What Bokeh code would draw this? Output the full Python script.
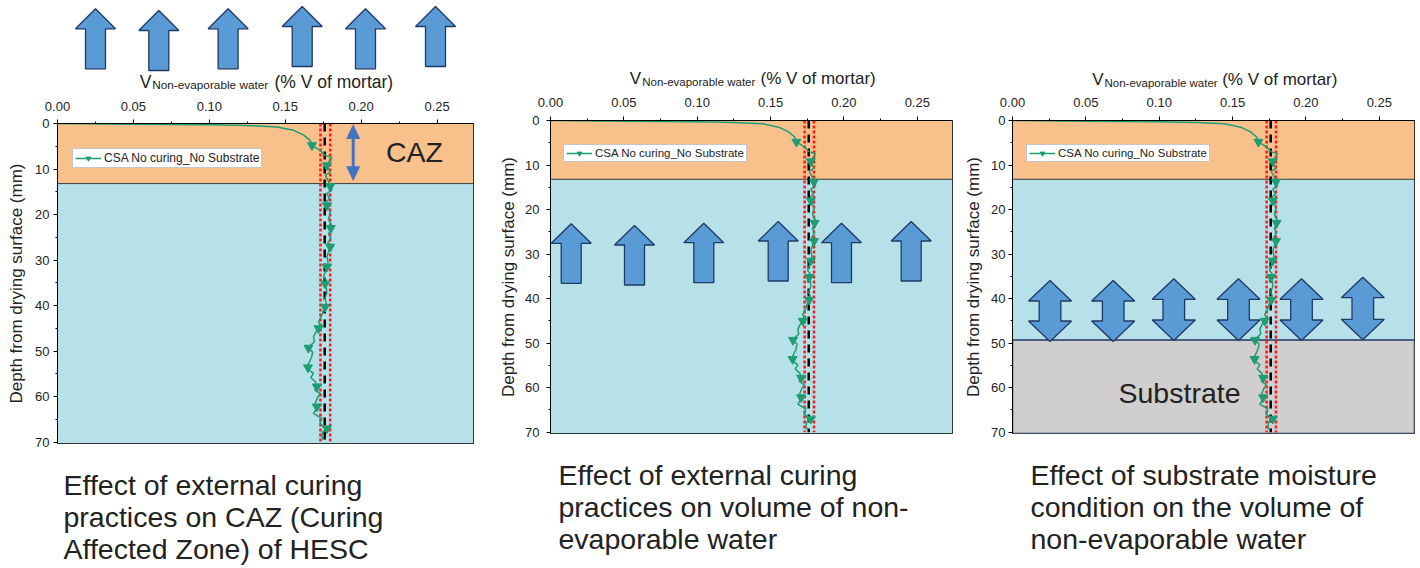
from bokeh.plotting import figure
from bokeh.layouts import row, column
from bokeh.models import Range1d, FixedTicker, NumeralTickFormatter, Legend, LegendItem
from bokeh.core.properties import value
from bokeh.embed import file_html
from bokeh.resources import INLINE

# ---------------- data ----------------
depth_mm = [0.0, 0.15, 0.3, 0.45, 0.75, 1.5, 2.5, 3.7, 4.8, 5.9, 7.0, 7.5, 8.3, 9.2, 10.0, 10.7,
            11.4, 12.3, 13.0, 13.8, 14.6, 15.4, 16.5, 17.2, 18.0, 19.0, 19.8, 21.0, 22.0, 23.1,
            24.2, 25.3, 26.2, 27.1, 28.2, 29.3, 30.4, 31.5, 32.6, 33.7, 34.4, 35.2, 36.3, 37.3,
            38.5, 39.4, 40.3, 41.2, 42.1, 43.6, 44.3, 45.0, 45.9, 46.9, 48.0, 48.6, 49.3, 50.2,
            51.2, 52.3, 53.4, 54.1, 54.9, 55.8, 56.8, 57.8, 58.6, 59.3, 60.3, 61.5, 62.2, 63.0,
            63.7, 64.8, 65.9, 66.5, 67.0, 67.8, 68.8, 69.5]
nev_water = [0.000, 0.050, 0.100, 0.125, 0.1445, 0.1555, 0.1620, 0.1664, 0.1676, 0.1730, 0.1763,
             0.1807, 0.1790, 0.1774, 0.1785, 0.1796, 0.1763, 0.1778, 0.1790, 0.1796, 0.1808,
             0.1774, 0.1792, 0.1770, 0.1774, 0.1790, 0.1796, 0.1785, 0.1800, 0.1812, 0.1785,
             0.1800, 0.1780, 0.1796, 0.1785, 0.1774, 0.1782, 0.1774, 0.1765, 0.1752, 0.1770,
             0.1763, 0.1772, 0.1774, 0.1760, 0.1770, 0.1763, 0.1750, 0.1741, 0.1719, 0.1732,
             0.1719, 0.1700, 0.1686, 0.1692, 0.1670, 0.1653, 0.1680, 0.1675, 0.1660, 0.1643,
             0.1655, 0.1686, 0.1668, 0.1700, 0.1708, 0.1695, 0.1730, 0.1712, 0.1697, 0.1708,
             0.1700, 0.1686, 0.1741, 0.1728, 0.1748, 0.1774, 0.1745, 0.1741, 0.1752]
marker_depth = [4.8, 9.2, 13.8, 18.0, 23.0, 27.1, 31.5, 35.2, 40.3, 45.0, 49.3, 53.6, 57.8, 62.2, 67.0]
marker_water = [0.1676, 0.1774, 0.1796, 0.1774, 0.1800, 0.1796, 0.1774, 0.1763, 0.1763, 0.1719,
                0.1653, 0.1650, 0.1708, 0.1708, 0.1774]
mean_water = 0.176
band_low = 0.1732
band_high = 0.1796
caz_depth = 13.2
substrate_depth = 49.3
x_ticks = [0.0, 0.05, 0.10, 0.15, 0.20, 0.25]
x_minor = [0.025, 0.075, 0.125, 0.175, 0.225]
y_ticks = [0, 10, 20, 30, 40, 50, 60, 70]
y_minor = [5, 15, 25, 35, 45, 55, 65]
series_label = "CSA No curing_No Substrate"
x_title = ["V", "Non-evaporable water", "(% V of mortar)"]
y_title = "Depth from drying surface (mm)"
captions = [
    ["Effect of external curing", "practices on CAZ (Curing", "Affected Zone) of HESC"],
    ["Effect of external curing", "practices on volume of non-", "evaporable water"],
    ["Effect of substrate moisture", "condition on the volume of", "non-evaporable water"],
]

# ---------------- style ----------------
FONT = "Liberation Sans"
TXT = "#222222"
ORANGE = "#F8C18C"
BLUE = "#B7E1E9"
GRAY = "#D0CECE"
GREEN = "#1E9C72"
ARROW = "#5B9BD5"
ARROW_LINE = "#1F3864"
X_MAX = 0.274
Y_MAX = 70.3
TOTAL_H = 566

panels = [
    dict(x0=0, W=490, top_h=94, mbt=29, frame_h=320, mbb=10, mbl=57, mbr=17, xstand=9, ystand=4, ylab=6,
         title=(139.3, 81.5, 151.7, 84.5, 274.0, "17.5px", "11.8px"),
         legend=(15, 275, "12px"), cap_x=63, cap_base=[484, 516, 548]),
    dict(x0=490, W=470, top_h=90, mbt=30, frame_h=313, mbb=10, mbl=60, mbr=8, xstand=10, ystand=7, ylab=4,
         title=(629.3, 78.0, 641.7, 81.5, 760.0, "17px", "11.5px"),
         legend=(13, 271, "11.5px"), cap_x=558, cap_base=[474, 506, 538]),
    dict(x0=960, W=458, top_h=90, mbt=30, frame_h=313, mbb=10, mbl=52, mbr=4, xstand=10, ystand=3, ylab=5,
         title=(1091.7, 79.0, 1104.0, 82.5, 1221.7, "17px", "11.5px"),
         legend=(14, 271, "11.5px"), cap_x=1030, cap_base=[474, 506, 538]),
]

# decoration shapes (pixel positions on the page)
top_arrows = [(95, 8.3), (158.3, 10), (227.6, 8.3), (301.7, 6), (365, 8.3), (435, 6)]
mid_arrows = [(570.7, 223.3), (634, 225), (703.3, 222.7), (777.7, 221), (841, 222.7), (910.7, 221)]
dbl_arrows = [(1049.5, 280, 341), (1112.7, 280, 341), (1173.3, 278.3, 340), (1238, 278.3, 340),
              (1301, 278.3, 340), (1362.3, 276.7, 339.3)]


def up_arrow(cx, tip, hw=20, sw=10, head=20, length=60):
    hb = tip + head
    bot = tip + length
    return ([cx, cx + hw, cx + sw, cx + sw, cx - sw, cx - sw, cx - hw],
            [tip, hb, hb, bot, bot, hb, hb])


def double_arrow(cx, top, bot, hw, sw, head):
    h1 = top + head
    h2 = bot - head
    return ([cx, cx + hw, cx + sw, cx + sw, cx + hw, cx, cx - hw, cx - sw, cx - sw, cx - hw],
            [top, h1, h1, h2, h2, bot, h2, h2, h1, h1])


def blank_fig(cfg, ytop, H):
    fl = cfg["x0"] + cfg["mbl"]
    fr = cfg["x0"] + cfg["W"] - cfg["mbr"]
    f = figure(width=cfg["W"], height=H, x_range=Range1d(fl, fr), y_range=Range1d(ytop + H, ytop),
               toolbar_location=None, output_backend="svg",
               min_border_left=cfg["mbl"], min_border_right=cfg["mbr"],
               min_border_top=0, min_border_bottom=0,
               x_axis_location=None, y_axis_location=None)
    f.xgrid.visible = False
    f.ygrid.visible = False
    f.outline_line_color = None
    return f


cols = []
for i, cfg in enumerate(panels):
    x0, W = cfg["x0"], cfg["W"]
    # ---------- top strip: arrows + axis title ----------
    t = blank_fig(cfg, 0, cfg["top_h"])
    if i == 0:
        xs, ys = zip(*[up_arrow(cx, tip) for cx, tip in top_arrows])
        t.patches(list(xs), list(ys), fill_color=ARROW, line_color=ARROW_LINE, line_width=1.3)
    vx, vb, sx, sb, rx, big, small = cfg["title"]
    t.text(x=[vx, rx], y=[vb, vb], text=[x_title[0], x_title[2]], text_font=value(FONT),
           text_font_size=big, text_color=TXT, text_baseline="alphabetic", text_align="left")
    t.text(x=[sx], y=[sb], text=[x_title[1]], text_font=value(FONT), text_font_size=small,
           text_color=TXT, text_baseline="alphabetic", text_align="left")

    # ---------- main plot ----------
    H = cfg["mbt"] + cfg["frame_h"] + cfg["mbb"]
    main_top = cfg["top_h"]
    f_top = main_top + cfg["mbt"]
    f_bot = f_top + cfg["frame_h"]
    f_left = x0 + cfg["mbl"]
    f_right = x0 + W - cfg["mbr"]
    p = figure(width=W, height=H, x_range=Range1d(0, X_MAX), y_range=Range1d(Y_MAX, 0),
               x_axis_location="above", toolbar_location=None, output_backend="svg",
               min_border_left=cfg["mbl"], min_border_right=cfg["mbr"],
               min_border_top=cfg["mbt"], min_border_bottom=cfg["mbb"])
    p.extra_x_ranges = {"px": Range1d(f_left, f_right)}
    p.extra_y_ranges = {"px": Range1d(f_bot, f_top)}
    p.xgrid.visible = False
    p.ygrid.visible = False
    p.outline_line_color = "black"
    p.outline_line_width = 1

    xa = p.xaxis[0]
    xa.ticker = FixedTicker(ticks=x_ticks, minor_ticks=x_minor)
    xa.formatter = NumeralTickFormatter(format="0.00")
    xa.major_label_standoff = cfg["xstand"]
    ya = p.yaxis[0]
    ya.ticker = FixedTicker(ticks=y_ticks, minor_ticks=y_minor)
    ya.major_label_standoff = cfg["ystand"]
    ya.axis_label = y_title
    ya.axis_label_standoff = cfg["ylab"]
    ya.axis_label_text_font = FONT
    ya.axis_label_text_font_size = "17px"
    ya.axis_label_text_font_style = "normal"
    ya.axis_label_text_color = TXT
    for ax in (xa, ya):
        ax.major_label_text_font = FONT
        ax.major_label_text_font_size = "13px"
        ax.major_label_text_color = TXT
        ax.major_tick_in = 0
        ax.major_tick_out = 4
        ax.minor_tick_in = 0
        ax.minor_tick_out = 2
        ax.axis_line_color = "black"
        ax.major_tick_line_color = "black"
        ax.minor_tick_line_color = "black"

    # zones
    p.quad(left=[0, 0], right=[X_MAX, X_MAX], top=[0, caz_depth], bottom=[caz_depth, Y_MAX],
           fill_color=[ORANGE, BLUE], line_color=None)
    p.segment(x0=[0], y0=[caz_depth], x1=[X_MAX], y1=[caz_depth], line_color="#3a3a3a", line_width=1)
    if i == 2:
        p.quad(left=[0], right=[X_MAX], top=[substrate_depth], bottom=[Y_MAX],
               fill_color=GRAY, line_color=ARROW_LINE, line_width=1.5)
        p.text(x=[1179], y=[392.5], text=["Substrate"], x_range_name="px", y_range_name="px",
               text_font=value(FONT), text_font_size="28.5px", text_color=TXT,
               text_align="center", text_baseline="middle")
        xs, ys = zip(*[double_arrow(cx, a, b, 21.5, 10.8, 20.5) for cx, a, b in dbl_arrows])
        p.patches(list(xs), list(ys), x_range_name="px", y_range_name="px",
                  fill_color=ARROW, line_color=ARROW_LINE, line_width=1.3)
    if i == 1:
        xs, ys = zip(*[up_arrow(cx, tip, 20, 10, 19.5, 59.5) for cx, tip in mid_arrows])
        p.patches(list(xs), list(ys), x_range_name="px", y_range_name="px",
                  fill_color=ARROW, line_color=ARROW_LINE, line_width=1.3)
    if i == 0:
        ax_, ay_ = double_arrow(352.7, 123.5, 180.7, 7, 1.5, 15)
        p.patch(ax_, ay_, x_range_name="px", y_range_name="px", fill_color="#4472C4", line_color=None)
        p.text(x=[414], y=[151.7], text=["CAZ"], x_range_name="px", y_range_name="px",
               text_font=value(FONT), text_font_size="28.5px", text_color=TXT,
               text_align="center", text_baseline="middle")

    # reference lines
    p.segment(x0=[band_low, band_high], y0=[0, 0], x1=[band_low, band_high], y1=[70, 70],
              line_color="#FF1A1A", line_width=2.5, line_dash="3 2")
    p.segment(x0=[mean_water], y0=[0], x1=[mean_water], y1=[70],
              line_color="black", line_width=2.5, line_dash="8 6")

    # series
    r_line = p.line(x=nev_water, y=depth_mm, line_color=GREEN, line_width=1.5)
    r_mk = p.scatter(x=marker_water, y=marker_depth, marker="inverted_triangle", size=9,
                     fill_color=GREEN, line_color=GREEN)
    lx, ly, lfs = cfg["legend"]
    leg = Legend(items=[LegendItem(label=series_label, renderers=[r_line, r_mk])],
                 location=(lx, ly), padding=2, margin=0, spacing=0, label_standoff=3,
                 glyph_width=26, glyph_height=12, label_height=12,
                 label_text_font=FONT, label_text_font_size=lfs, label_text_color=TXT,
                 border_line_color="#8c8c8c", border_line_width=1,
                 background_fill_color="white", background_fill_alpha=1.0)
    p.add_layout(leg)

    # ---------- caption ----------
    cap_top = main_top + H
    cap_h = TOTAL_H - cap_top
    c = blank_fig(cfg, cap_top, cap_h)
    c.text(x=[cfg["cap_x"]] * 3, y=cfg["cap_base"], text=captions[i], text_font=value(FONT),
           text_font_size="28.5px", text_color=TXT, text_baseline="alphabetic", text_align="left")

    cols.append(column(t, p, c))

layout = row(*cols)
open("out.html", "w").write(file_html(layout, INLINE))
